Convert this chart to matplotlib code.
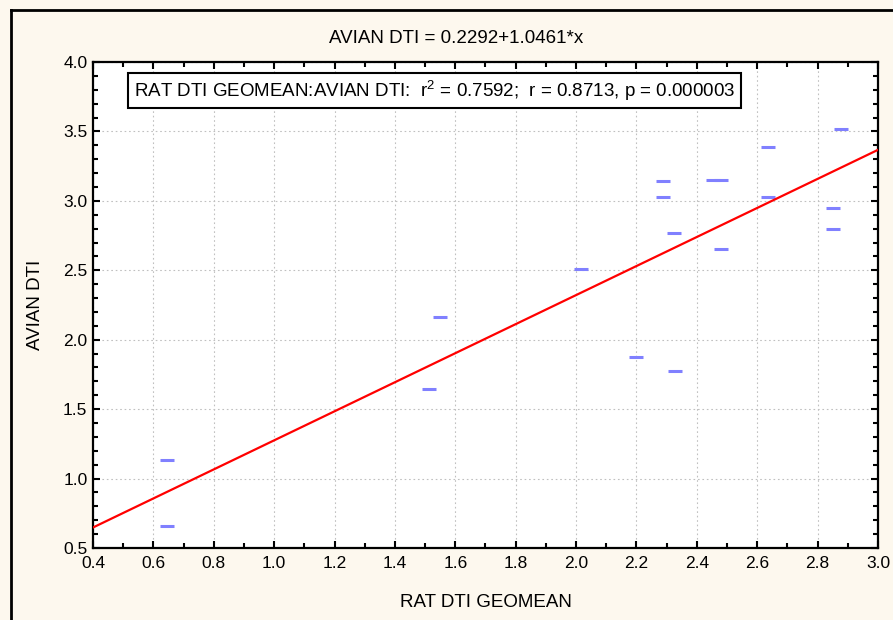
import matplotlib.pyplot as plt
from matplotlib.ticker import MultipleLocator
from matplotlib.lines import Line2D
from matplotlib import font_manager

# data
rat_dti = [0.645, 0.645, 1.513, 1.549, 2.016, 2.199, 2.328, 2.288, 2.288,
           2.325, 2.454, 2.480, 2.480, 2.636, 2.636, 2.850, 2.850, 2.877]
avian_dti = [1.134, 0.658, 1.645, 2.163, 2.509, 1.875, 1.774, 3.142, 3.027,
             2.768, 3.150, 3.150, 2.650, 3.387, 3.027, 2.950, 2.797, 3.514]
intercept = 0.2292
slope = 1.0461
line_x = [0.4, 3.0]

names = {f.name for f in font_manager.fontManager.ttflist}
narrow = 'Liberation Sans Narrow' if 'Liberation Sans Narrow' in names else 'Liberation Sans'
plt.rcParams['font.family'] = ['Liberation Sans', 'DejaVu Sans']
plt.rcParams['mathtext.fontset'] = 'custom'
plt.rcParams['mathtext.rm'] = narrow

bg = '#fdf8ee'
fig = plt.figure(figsize=(8.93, 6.2), dpi=100, facecolor=bg)
ax = fig.add_axes([0.1041, 0.1161, 0.8791, 0.7839])

# outer frame: only the left and top edges show in the reference
fx, fy = 10.5 / 893, 1 - 9.5 / 620
fig.add_artist(Line2D([fx, fx], [0, fy], transform=fig.transFigure, color='black', linewidth=2))
fig.add_artist(Line2D([fx, 1], [fy, fy], transform=fig.transFigure, color='black', linewidth=2))

ax.plot(rat_dti, avian_dti, linestyle='none', marker='_', markersize=10,
        markeredgewidth=2.2, color='#8080ff', zorder=3)
line_y = [intercept + slope * v for v in line_x]
ax.plot(line_x, line_y, color='#ff0000', linewidth=1.6, zorder=4)

ax.set_xlim(0.4, 3.0)
ax.set_ylim(0.5, 4.0)
ax.xaxis.set_major_locator(MultipleLocator(0.2))
ax.xaxis.set_minor_locator(MultipleLocator(0.1))
ax.yaxis.set_major_locator(MultipleLocator(0.5))
ax.yaxis.set_minor_locator(MultipleLocator(0.1))
ax.xaxis.set_major_formatter(plt.FormatStrFormatter('%.1f'))
ax.yaxis.set_major_formatter(plt.FormatStrFormatter('%.1f'))
ax.tick_params(which='both', direction='in', top=True, right=True,
               labelsize=12.5, width=1.5, color='black')
ax.tick_params(which='major', length=5)
ax.tick_params(which='minor', length=3.5)
ax.tick_params(axis='x', pad=6)
ax.tick_params(axis='y', pad=4)
ax.grid(True, which='major', linestyle=(0, (1.5, 2.5)), color='#c0c0c0', linewidth=0.8)
for s in ax.spines.values():
    s.set_linewidth(1.6)

ax.set_title('AVIAN DTI = 0.2292+1.0461*x', fontsize=13.5, family=narrow, pad=14, x=0.462)
ax.set_xlabel('RAT DTI GEOMEAN', fontsize=13.5, family=narrow, labelpad=16)
ax.set_ylabel('AVIAN DTI', fontsize=13.5, family=narrow, labelpad=14)

ax.text(0.052, 0.941,
        'RAT DTI GEOMEAN:AVIAN DTI:  $\\mathregular{r^2}$ = 0.7592;  r = 0.8713, p = 0.000003',
        transform=ax.transAxes, fontsize=13.5, family=narrow, va='center', ha='left',
        bbox=dict(boxstyle='square,pad=0.3', facecolor='white', edgecolor='black',
                  linewidth=1.5), zorder=5)

fig.savefig('out.png', dpi=100, facecolor=bg)
